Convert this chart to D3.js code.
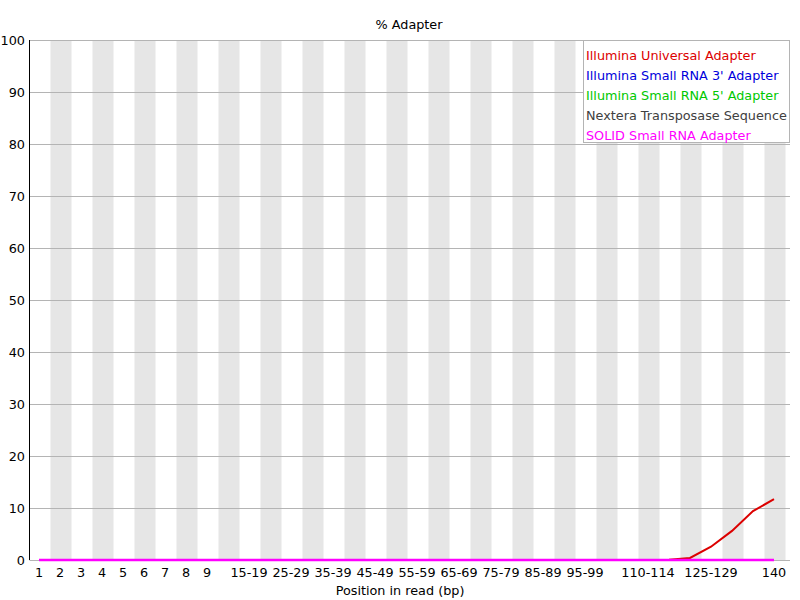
<!DOCTYPE html>
<html><head><meta charset="utf-8">
<script src="https://cdn.jsdelivr.net/npm/d3@7"></script>
<style>body{margin:0;background:#fff}svg{display:block;font-family:"DejaVu Sans",sans-serif}</style>
</head><body><svg id="c" width="800" height="600"></svg>
<script>
const categories = ["1","2","3","4","5","6","7","8","9","10-14","15-19","20-24","25-29","30-34","35-39","40-44","45-49","50-54","55-59","60-64","65-69","70-74","75-79","80-84","85-89","90-94","95-99","100-104","105-109","110-114","115-119","120-124","125-129","130-134","135-139","140"];
const shownLabels = ["1","2","3","4","5","6","7","8","9","15-19","25-29","35-39","45-49","55-59","65-69","75-79","85-89","95-99","110-114","125-129","140"];
const seriesNames = ["Illumina Universal Adapter","Illumina Small RNA 3' Adapter","Illumina Small RNA 5' Adapter","Nextera Transposase Sequence","SOLID Small RNA Adapter"];
const seriesColors = ["#dc0000","#0000dc","#00c800","#404040","#ff00ff"];
const universal = [0,0,0,0,0,0,0,0,0,0,0,0,0,0,0,0,0,0,0,0,0,0,0,0,0,0,0,0,0,0,0.05,0.4,2.55,5.6,9.4,11.7];
const smallRna3 = [0,0,0,0,0,0,0,0,0,0,0,0,0,0,0,0,0,0,0,0,0,0,0,0,0,0,0,0,0,0,0,0,0,0,0,0];
const smallRna5 = [0,0,0,0,0,0,0,0,0,0,0,0,0,0,0,0,0,0,0,0,0,0,0,0,0,0,0,0,0,0,0,0,0,0,0,0];
const nextera = [0,0,0,0,0,0,0,0,0,0,0,0,0,0,0,0,0,0,0,0,0,0,0,0,0,0,0,0,0,0,0,0,0,0,0,0];
const solid = [0,0,0,0,0,0,0,0,0,0,0,0,0,0,0,0,0,0,0,0,0,0,0,0,0,0,0,0,0,0,0,0,0,0,0,0];
const series = [universal, smallRna3, smallRna5, nextera, solid];
const yTicks = [0,10,20,30,40,50,60,70,80,90,100];

(function(){
const svg = d3.select("#c");
const pl = 29.5, pr = 785.5, pt = 40, pb = 560;
const fs = 12.8;
const x = d3.scaleBand().domain(categories).range([pl, pr]).padding(0);
const y = d3.scaleLinear().domain([0,100]).range([pb, pt]);

svg.append("g").selectAll("rect").data(categories.filter((d,i)=>i%2===1)).join("rect")
  .attr("x", d=>x(d)).attr("y", pt).attr("width", x.bandwidth()).attr("height", pb-pt)
  .attr("fill", "#e6e6e6");

svg.append("g").selectAll("line").data(yTicks).join("line")
  .attr("x1", pl).attr("x2", 790).attr("y1", d=>Math.round(y(d))+0.5).attr("y2", d=>Math.round(y(d))+0.5)
  .attr("stroke", "#b4b4b4").attr("stroke-width", 1);

svg.append("line").attr("x1", pl).attr("x2", pl).attr("y1", pt).attr("y2", pb).attr("stroke", "#000");
svg.append("g").selectAll("text").data(yTicks).join("text")
  .attr("x", 25).attr("y", d=>y(d)+5).attr("text-anchor","end").attr("font-size", fs).text(d=>d);

svg.append("g").selectAll("text").data(shownLabels).join("text")
  .attr("x", d=>x(d)+x.bandwidth()/2 - 1).attr("y", 577).attr("text-anchor","middle").attr("font-size", fs).text(d=>d);

const line = d3.line().x((d,i)=>x(categories[i])+x.bandwidth()/2 - 1).y(d=>y(d));
series.forEach((s,k)=>{
  svg.append("path").datum(s).attr("d", line).attr("fill","none")
    .attr("stroke", seriesColors[k]).attr("stroke-width", k===4 ? 2.6 : 2);
});

const lg = svg.append("g");
lg.append("rect").attr("x", 583.5).attr("y", 40.5).attr("width", 206).attr("height", 102)
  .attr("fill","#fff").attr("stroke","#b4b4b4");
lg.selectAll("text").data(seriesNames).join("text")
  .attr("x", 586).attr("y", (d,i)=>60+i*20).attr("font-size", fs)
  .attr("fill", (d,i)=>seriesColors[i]).text(d=>d);

svg.append("text").attr("x", 409).attr("y", 29).attr("text-anchor","middle").attr("font-size", fs).text("% Adapter");
svg.append("text").attr("x", 400).attr("y", 595).attr("text-anchor","middle").attr("font-size", fs).text("Position in read (bp)");
})();
</script></body></html>
